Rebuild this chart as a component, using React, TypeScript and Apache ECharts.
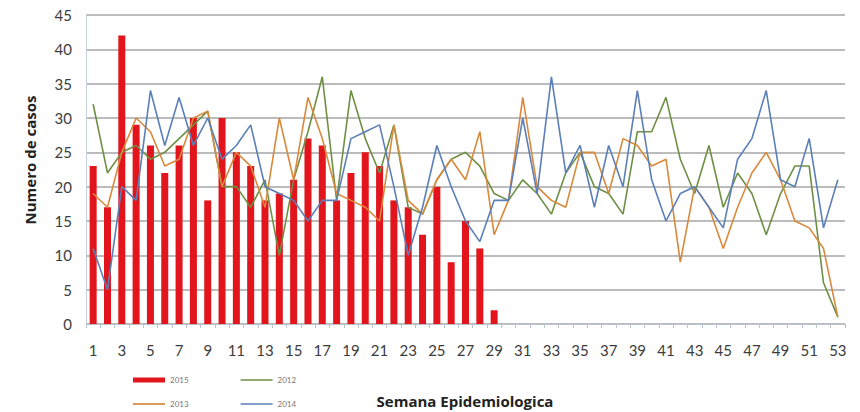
import React, { useEffect, useRef } from "react";
import * as echarts from "echarts";

const weeks: string[] = Array.from({ length: 53 }, (_, i) => String(i + 1));

const cases2015: number[] = [23, 17, 42, 29, 26, 22, 26, 30, 18, 30, 25, 23, 18, 19, 21, 27, 26, 18, 22, 25, 23, 18, 17, 13, 20, 9, 15, 11, 2];

const cases2012: number[] = [32, 22, 25, 26, 24, 25, 27, 29, 31, 20, 20, 17, 21, 10, 21, 28, 36, 18, 34, 27, 22, 29, 17, 16, 21, 24, 25, 23, 19, 18, 21, 19, 16, 22, 25, 20, 19, 16, 28, 28, 33, 24, 19, 26, 17, 22, 19, 13, 19, 23, 23, 6, 1];

const cases2013: number[] = [19, 17, 25, 30, 28, 23, 24, 30, 31, 20, 25, 23, 17, 30, 21, 33, 27, 19, 18, 17, 15, 29, 18, 16, 21, 24, 21, 28, 13, 18, 33, 20, 18, 17, 25, 25, 19, 27, 26, 23, 24, 9, 20, 17, 11, 17, 22, 25, 21, 15, 14, 11, 1];

const cases2014: number[] = [11, 5, 20, 18, 34, 26, 33, 26, 30, 24, 26, 29, 20, 19, 18, 15, 18, 18, 27, 28, 29, 20, 10, 17, 26, 20, 15, 12, 18, 18, 30, 19, 36, 22, 26, 17, 26, 20, 34, 21, 15, 19, 20, 17, 14, 24, 27, 34, 21, 20, 27, 14, 21];

const yTicks: number[] = [0, 5, 10, 15, 20, 25, 30, 35, 40, 45];

const COLORS = {
  c2015: "#e2141c",
  c2012: "#6f8f45",
  c2013: "#d9893c",
  c2014: "#5b7fb8",
};

const FONT = "Lato, 'Open Sans', sans-serif";
const TITLE_FONT = "'Open Sans', sans-serif";
const lineIcon = "path://M0,0H30V1.6H0Z";

export default function App() {
  const ref = useRef<HTMLDivElement>(null);

  useEffect(() => {
    if (!ref.current) return;
    const chart = echarts.init(ref.current, undefined, { renderer: "svg" });
    const lineSeries = (name: string, data: number[], color: string) => ({
      name,
      type: "line" as const,
      data,
      symbol: "none",
      lineStyle: { color, width: 1.6 },
      itemStyle: { color },
      z: 3,
    });
    const legendText = { fontSize: 8, color: "#777", fontFamily: FONT };
    chart.setOption({
      animation: false,
      backgroundColor: "#ffffff",
      textStyle: { fontFamily: FONT },
      grid: { left: 86, right: 15, top: 15, bottom: 88, containLabel: false },
      legend: [
        {
          left: 128,
          top: 371,
          orient: "horizontal",
          itemWidth: 32,
          itemHeight: 5,
          itemGap: 52,
          textStyle: legendText,
          data: [
            { name: "2015", icon: "rect" },
            { name: "2012", icon: lineIcon },
          ],
        },
        {
          left: 128,
          top: 395,
          orient: "horizontal",
          itemWidth: 32,
          itemHeight: 5,
          itemGap: 52,
          textStyle: legendText,
          data: [
            { name: "2013", icon: lineIcon },
            { name: "2014", icon: lineIcon },
          ],
        },
      ],
      xAxis: {
        type: "category",
        data: weeks,
        boundaryGap: true,
        axisLine: { show: true, lineStyle: { color: "#b9c3d0", width: 1 } },
        axisTick: { show: true, interval: 0, length: 4, lineStyle: { color: "#b9c3d0" } },
        axisLabel: {
          interval: 1,
          fontSize: 15,
          color: "#3c3c3c",
          margin: 18,
          fontFamily: FONT,
        },
        splitLine: { show: false },
      },
      yAxis: {
        type: "value",
        min: 0,
        max: yTicks[yTicks.length - 1],
        interval: 5,
        axisLine: { show: true, lineStyle: { color: "#c7d0dc", width: 1 } },
        axisTick: { show: false },
        axisLabel: { fontSize: 15, color: "#3c3c3c", margin: 14, fontFamily: FONT },
        splitLine: { show: true, lineStyle: { color: "#a6a6a6", width: 1.6 } },
      },
      graphic: [
        {
          type: "text",
          x: 30,
          y: 160,
          rotation: Math.PI / 2,
          style: {
            text: "Numero de casos",
            fontSize: 15,
            fontWeight: "bold",
            fill: "#222",
            fontFamily: TITLE_FONT,
            align: "center",
            verticalAlign: "middle",
          },
        },
        {
          type: "text",
          x: 465,
          y: 401,
          style: {
            text: "Semana Epidemiologica",
            fontSize: 15,
            fontWeight: "bold",
            fill: "#222",
            fontFamily: TITLE_FONT,
            align: "center",
            verticalAlign: "middle",
          },
        },
      ],
      series: [
        {
          name: "2015",
          type: "bar",
          data: cases2015,
          barWidth: 7,
          itemStyle: { color: COLORS.c2015 },
          z: 2,
        },
        lineSeries("2012", cases2012, COLORS.c2012),
        lineSeries("2013", cases2013, COLORS.c2013),
        lineSeries("2014", cases2014, COLORS.c2014),
      ],
    });
    return () => chart.dispose();
  }, []);

  return (
    <div
      ref={ref}
      style={{ position: "fixed", left: 0, top: 0, width: 860, height: 412, background: "#fff" }}
    />
  );
}
